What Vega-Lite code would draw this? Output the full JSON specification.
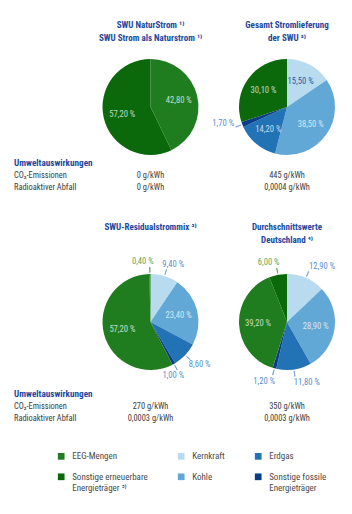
{
  "$schema": "https://vega.github.io/schema/vega-lite/v6.json",
  "background": "white",
  "padding": {"left": 14, "top": 0, "right": 0, "bottom": 0},
  "datasets": {
    "anteile": [
      {"chart": "SWU NaturStrom", "cat": "EEG-Mengen", "anteil": 0.428, "k": 5},
      {"chart": "SWU NaturStrom", "cat": "Sonstige erneuerbare Energieträger", "anteil": 0.572, "k": 6},
      {"chart": "Gesamt Stromlieferung der SWU", "cat": "Kernkraft", "anteil": 0.155, "k": 1},
      {"chart": "Gesamt Stromlieferung der SWU", "cat": "Kohle", "anteil": 0.385, "k": 2},
      {"chart": "Gesamt Stromlieferung der SWU", "cat": "Erdgas", "anteil": 0.142, "k": 3},
      {"chart": "Gesamt Stromlieferung der SWU", "cat": "Sonstige fossile Energieträger", "anteil": 0.017, "k": 4},
      {"chart": "Gesamt Stromlieferung der SWU", "cat": "Sonstige erneuerbare Energieträger", "anteil": 0.301, "k": 6},
      {"chart": "SWU-Residualstrommix", "cat": "Kernkraft", "anteil": 0.094, "k": 1},
      {"chart": "SWU-Residualstrommix", "cat": "Kohle", "anteil": 0.234, "k": 2},
      {"chart": "SWU-Residualstrommix", "cat": "Erdgas", "anteil": 0.086, "k": 3},
      {"chart": "SWU-Residualstrommix", "cat": "Sonstige fossile Energieträger", "anteil": 0.010, "k": 4},
      {"chart": "SWU-Residualstrommix", "cat": "EEG-Mengen", "anteil": 0.572, "k": 5},
      {"chart": "SWU-Residualstrommix", "cat": "Sonstige erneuerbare Energieträger", "anteil": 0.004, "k": 6},
      {"chart": "Durchschnittswerte Deutschland", "cat": "Kernkraft", "anteil": 0.129, "k": 1},
      {"chart": "Durchschnittswerte Deutschland", "cat": "Kohle", "anteil": 0.289, "k": 2},
      {"chart": "Durchschnittswerte Deutschland", "cat": "Erdgas", "anteil": 0.118, "k": 3},
      {"chart": "Durchschnittswerte Deutschland", "cat": "Sonstige fossile Energieträger", "anteil": 0.012, "k": 4},
      {"chart": "Durchschnittswerte Deutschland", "cat": "EEG-Mengen", "anteil": 0.392, "k": 5},
      {"chart": "Durchschnittswerte Deutschland", "cat": "Sonstige erneuerbare Energieträger", "anteil": 0.060, "k": 6}
    ],
    "titel": [
      {"reihe": "oben", "chart": "SWU NaturStrom", "titel": ["SWU NaturStrom ¹⁾", "SWU Strom als Naturstrom ¹⁾"]},
      {"reihe": "oben", "chart": "Gesamt Stromlieferung der SWU", "titel": ["Gesamt Stromlieferung", "der SWU ²⁾"]},
      {"reihe": "unten", "chart": "SWU-Residualstrommix", "titel": ["SWU-Residualstrommix ³⁾"]},
      {"reihe": "unten", "chart": "Durchschnittswerte Deutschland", "titel": ["Durchschnittswerte", "Deutschland ⁴⁾"]}
    ],
    "tabelle": [
      {"block": "oben", "zeile": "CO₂-Emissionen", "spalte": "SWU NaturStrom", "wert": "0 g/kWh"},
      {"block": "oben", "zeile": "CO₂-Emissionen", "spalte": "Gesamt Stromlieferung der SWU", "wert": "445 g/kWh"},
      {"block": "oben", "zeile": "Radioaktiver Abfall", "spalte": "SWU NaturStrom", "wert": "0 g/kWh"},
      {"block": "oben", "zeile": "Radioaktiver Abfall", "spalte": "Gesamt Stromlieferung der SWU", "wert": "0,0004 g/kWh"},
      {"block": "unten", "zeile": "CO₂-Emissionen", "spalte": "SWU-Residualstrommix", "wert": "270 g/kWh"},
      {"block": "unten", "zeile": "CO₂-Emissionen", "spalte": "Durchschnittswerte Deutschland", "wert": "350 g/kWh"},
      {"block": "unten", "zeile": "Radioaktiver Abfall", "spalte": "SWU-Residualstrommix", "wert": "0,0003 g/kWh"},
      {"block": "unten", "zeile": "Radioaktiver Abfall", "spalte": "Durchschnittswerte Deutschland", "wert": "0,0003 g/kWh"}
    ]
  },
  "bounds": "flush",
  "spacing": 0,
  "vconcat": [
    {
      "width": 273, "height": 59,
      "data": {"name": "titel"},
      "transform": [{"filter": "datum.reihe == 'oben'"}],
      "mark": {"type": "text", "fontSize": 9, "fontWeight": "bold", "color": "#22489c", "lineHeight": 12.5, "baseline": "middle", "dy": -4.5},
      "encoding": {
        "x": {"field": "chart", "type": "nominal", "scale": {"type": "point", "padding": 0, "domain": ["Bezeichnung", "SWU NaturStrom", "Gesamt Stromlieferung der SWU"]}, "axis": null},
        "text": {"field": "titel", "type": "nominal"}
      }
    },
    {
      "width": 273, "height": 96,
      "data": {"name": "anteile"},
      "encoding": {
        "theta": {"field": "anteil", "type": "quantitative", "stack": true, "scale": {"domain": [0, 1]}},
        "order": {"field": "k", "type": "quantitative"},
        "detail": {"field": "cat", "type": "nominal"}
      },
      "layer": [
        {
          "transform": [{"filter": "datum.chart == 'SWU NaturStrom'"}],
          "encoding": {"x": {"datum": "SWU NaturStrom", "type": "nominal", "scale": {"type": "point", "padding": 0, "domain": ["Bezeichnung", "SWU NaturStrom", "Gesamt Stromlieferung der SWU"]}, "axis": null}},
          "layer": [
            {"mark": {"type": "arc"}, "encoding": {"color": {"field": "cat", "type": "nominal", "scale": {"domain": ["EEG-Mengen", "Sonstige erneuerbare Energieträger", "Kernkraft", "Kohle", "Erdgas", "Sonstige fossile Energieträger"], "range": ["#1f7d1f", "#0b690b", "#b9dbef", "#62a8d6", "#2272b6", "#0a3c8c"]}, "legend": {"title": null, "labelExpr": "datum.label == 'Sonstige erneuerbare Energieträger' ? ['Sonstige erneuerbare', 'Energieträger ⁵⁾'] : datum.label == 'Sonstige fossile Energieträger' ? ['Sonstige fossile', 'Energieträger'] : datum.label"}}}},
            {"mark": {"type": "arc", "radius": 55, "radius2": 49.5, "padAngle": 3, "fillOpacity": 0, "strokeWidth": 0.9}, "encoding": {"stroke": {"condition": {"test": "datum.cat == 'EEG-Mengen' || datum.cat == 'Sonstige erneuerbare Energieträger'", "value": "#62aa62"}, "value": "#7aa5d8"}, "strokeOpacity": {"condition": {"test": "datum.anteil < 0.14", "value": 1}, "value": 0}}},
            {"mark": {"type": "text", "radius": 29, "fontSize": 8.6}, "encoding": {"text": {"condition": {"test": "datum.anteil >= 0.14", "field": "anteil", "type": "quantitative", "format": ".2%"}, "value": ""}, "color": {"condition": {"test": "datum.cat == 'Kernkraft'", "value": "#1f5ca8"}, "value": "#ffffff"}, "opacity": {"condition": {"test": "datum.cat == 'Kernkraft'", "value": 1}, "value": 0.72}}}
          ]
        },
        {
          "transform": [{"filter": "datum.chart == 'Gesamt Stromlieferung der SWU'"}],
          "encoding": {"x": {"datum": "Gesamt Stromlieferung der SWU", "type": "nominal", "scale": {"type": "point", "padding": 0, "domain": ["Bezeichnung", "SWU NaturStrom", "Gesamt Stromlieferung der SWU"]}, "axis": null}},
          "layer": [
            {"mark": {"type": "arc"}, "encoding": {"color": {"field": "cat", "type": "nominal", "scale": {"domain": ["EEG-Mengen", "Sonstige erneuerbare Energieträger", "Kernkraft", "Kohle", "Erdgas", "Sonstige fossile Energieträger"], "range": ["#1f7d1f", "#0b690b", "#b9dbef", "#62a8d6", "#2272b6", "#0a3c8c"]}, "legend": {"title": null, "labelExpr": "datum.label == 'Sonstige erneuerbare Energieträger' ? ['Sonstige erneuerbare', 'Energieträger ⁵⁾'] : datum.label == 'Sonstige fossile Energieträger' ? ['Sonstige fossile', 'Energieträger'] : datum.label"}}}},
            {"mark": {"type": "arc", "radius": 55, "radius2": 49.5, "padAngle": 3, "fillOpacity": 0, "strokeWidth": 0.9}, "encoding": {"stroke": {"condition": {"test": "datum.cat == 'EEG-Mengen' || datum.cat == 'Sonstige erneuerbare Energieträger'", "value": "#62aa62"}, "value": "#7aa5d8"}, "strokeOpacity": {"condition": {"test": "datum.anteil < 0.14", "value": 1}, "value": 0}}},
            {"mark": {"type": "text", "radius": 29, "fontSize": 8.6}, "encoding": {"text": {"condition": {"test": "datum.anteil >= 0.14", "field": "anteil", "type": "quantitative", "format": ".2%"}, "value": ""}, "color": {"condition": {"test": "datum.cat == 'Kernkraft'", "value": "#1f5ca8"}, "value": "#ffffff"}, "opacity": {"condition": {"test": "datum.cat == 'Kernkraft'", "value": 1}, "value": 0.72}}},
            {"mark": {"type": "text", "radius": 61, "fontSize": 8.6, "align": "right", "dx": 4, "dy": -6}, "encoding": {"text": {"condition": {"test": "datum.anteil < 0.14 && (datum.cat == 'Sonstige fossile Energieträger' || datum.cat == 'Sonstige erneuerbare Energieträger')", "field": "anteil", "type": "quantitative", "format": ".2%"}, "value": ""}, "color": {"value": "#5b8fd0"}}}
          ]
        }
      ]
    },
    {
      "width": 273, "height": 50,
      "layer": [
        {"data": {"name": "tabelle"}, "transform": [{"filter": "datum.block == 'oben'"}],
         "mark": {"type": "text", "fontSize": 8.4, "color": "#3c3c3c"},
         "encoding": {"x": {"field": "spalte", "type": "nominal", "scale": {"type": "point", "padding": 0, "domain": ["Bezeichnung", "SWU NaturStrom", "Gesamt Stromlieferung der SWU"]}, "axis": null}, "y": {"field": "zeile", "type": "nominal", "scale": {"type": "point", "padding": 0, "domain": ["Umweltauswirkungen", "CO₂-Emissionen", "Radioaktiver Abfall"], "range": [8, 32]}, "axis": null}, "text": {"field": "wert"}}},
        {"data": {"name": "tabelle"}, "transform": [{"filter": "datum.block == 'oben' && datum.spalte == 'SWU NaturStrom'"}],
         "mark": {"type": "text", "fontSize": 8.4, "color": "#3c3c3c", "align": "left"},
         "encoding": {"x": {"datum": "Bezeichnung", "type": "nominal", "scale": {"type": "point", "padding": 0, "domain": ["Bezeichnung", "SWU NaturStrom", "Gesamt Stromlieferung der SWU"]}, "axis": null}, "y": {"field": "zeile", "type": "nominal", "scale": {"type": "point", "padding": 0, "domain": ["Umweltauswirkungen", "CO₂-Emissionen", "Radioaktiver Abfall"], "range": [8, 32]}, "axis": null}, "text": {"field": "zeile"}}},
        {"data": {"values": [{"zeile": "Umweltauswirkungen"}]},
         "mark": {"type": "text", "fontSize": 9.2, "fontWeight": "bold", "color": "#22489c", "align": "left"},
         "encoding": {"x": {"datum": "Bezeichnung", "type": "nominal", "scale": {"type": "point", "padding": 0, "domain": ["Bezeichnung", "SWU NaturStrom", "Gesamt Stromlieferung der SWU"]}, "axis": null}, "y": {"field": "zeile", "type": "nominal", "scale": {"type": "point", "padding": 0, "domain": ["Umweltauswirkungen", "CO₂-Emissionen", "Radioaktiver Abfall"], "range": [8, 32]}, "axis": null}, "text": {"field": "zeile"}}}
      ]
    },
    {
      "width": 273, "height": 69,
      "data": {"name": "titel"},
      "transform": [{"filter": "datum.reihe == 'unten'"}],
      "mark": {"type": "text", "fontSize": 9, "fontWeight": "bold", "color": "#22489c", "lineHeight": 12.5, "baseline": "middle", "dy": -12.5},
      "encoding": {
        "x": {"field": "chart", "type": "nominal", "scale": {"type": "point", "padding": 0, "domain": ["Bezeichnung", "SWU-Residualstrommix", "Durchschnittswerte Deutschland"]}, "axis": null},
        "text": {"field": "titel", "type": "nominal"}
      }
    },
    {
      "width": 273, "height": 96,
      "data": {"name": "anteile"},
      "encoding": {
        "theta": {"field": "anteil", "type": "quantitative", "stack": true, "scale": {"domain": [0, 1]}},
        "order": {"field": "k", "type": "quantitative"},
        "detail": {"field": "cat", "type": "nominal"}
      },
      "layer": [
        {
          "transform": [{"filter": "datum.chart == 'SWU-Residualstrommix'"}],
          "encoding": {"x": {"datum": "SWU-Residualstrommix", "type": "nominal", "scale": {"type": "point", "padding": 0, "domain": ["Bezeichnung", "SWU-Residualstrommix", "Durchschnittswerte Deutschland"]}, "axis": null}},
          "layer": [
            {"mark": {"type": "arc"}, "encoding": {"color": {"field": "cat", "type": "nominal", "scale": {"domain": ["EEG-Mengen", "Sonstige erneuerbare Energieträger", "Kernkraft", "Kohle", "Erdgas", "Sonstige fossile Energieträger"], "range": ["#1f7d1f", "#0b690b", "#b9dbef", "#62a8d6", "#2272b6", "#0a3c8c"]}, "legend": {"title": null, "labelExpr": "datum.label == 'Sonstige erneuerbare Energieträger' ? ['Sonstige erneuerbare', 'Energieträger ⁵⁾'] : datum.label == 'Sonstige fossile Energieträger' ? ['Sonstige fossile', 'Energieträger'] : datum.label"}}}},
            {"mark": {"type": "arc", "radius": 55, "radius2": 49.5, "padAngle": 3, "fillOpacity": 0, "strokeWidth": 0.9}, "encoding": {"stroke": {"condition": {"test": "datum.cat == 'EEG-Mengen' || datum.cat == 'Sonstige erneuerbare Energieträger'", "value": "#62aa62"}, "value": "#7aa5d8"}, "strokeOpacity": {"condition": {"test": "datum.anteil < 0.14", "value": 1}, "value": 0}}},
            {"mark": {"type": "text", "radius": 29, "fontSize": 8.6}, "encoding": {"text": {"condition": {"test": "datum.anteil >= 0.14", "field": "anteil", "type": "quantitative", "format": ".2%"}, "value": ""}, "color": {"condition": {"test": "datum.cat == 'Kernkraft'", "value": "#1f5ca8"}, "value": "#ffffff"}, "opacity": {"condition": {"test": "datum.cat == 'Kernkraft'", "value": 1}, "value": 0.72}}},
            {"mark": {"type": "text", "radius": 61, "fontSize": 8.6, "align": "right", "dx": 4}, "encoding": {"text": {"condition": {"test": "datum.anteil < 0.14 && (datum.cat == 'Sonstige fossile Energieträger' || datum.cat == 'Sonstige erneuerbare Energieträger')", "field": "anteil", "type": "quantitative", "format": ".2%"}, "value": ""}, "color": {"condition": {"test": "datum.cat == 'EEG-Mengen' || datum.cat == 'Sonstige erneuerbare Energieträger'", "value": "#5ea65e"}, "value": "#5b8fd0"}}},
            {"mark": {"type": "text", "radius": 61, "fontSize": 8.6, "align": "left", "dx": -6}, "encoding": {"text": {"condition": {"test": "datum.anteil < 0.14 && (datum.cat == 'Kernkraft' || datum.cat == 'Kohle' || datum.cat == 'Erdgas')", "field": "anteil", "type": "quantitative", "format": ".2%"}, "value": ""}, "color": {"value": "#5b8fd0"}}}
          ]
        },
        {
          "transform": [{"filter": "datum.chart == 'Durchschnittswerte Deutschland'"}],
          "encoding": {"x": {"datum": "Durchschnittswerte Deutschland", "type": "nominal", "scale": {"type": "point", "padding": 0, "domain": ["Bezeichnung", "SWU-Residualstrommix", "Durchschnittswerte Deutschland"]}, "axis": null}},
          "layer": [
            {"mark": {"type": "arc"}, "encoding": {"color": {"field": "cat", "type": "nominal", "scale": {"domain": ["EEG-Mengen", "Sonstige erneuerbare Energieträger", "Kernkraft", "Kohle", "Erdgas", "Sonstige fossile Energieträger"], "range": ["#1f7d1f", "#0b690b", "#b9dbef", "#62a8d6", "#2272b6", "#0a3c8c"]}, "legend": {"title": null, "labelExpr": "datum.label == 'Sonstige erneuerbare Energieträger' ? ['Sonstige erneuerbare', 'Energieträger ⁵⁾'] : datum.label == 'Sonstige fossile Energieträger' ? ['Sonstige fossile', 'Energieträger'] : datum.label"}}}},
            {"mark": {"type": "arc", "radius": 55, "radius2": 49.5, "padAngle": 3, "fillOpacity": 0, "strokeWidth": 0.9}, "encoding": {"stroke": {"condition": {"test": "datum.cat == 'EEG-Mengen' || datum.cat == 'Sonstige erneuerbare Energieträger'", "value": "#62aa62"}, "value": "#7aa5d8"}, "strokeOpacity": {"condition": {"test": "datum.anteil < 0.14", "value": 1}, "value": 0}}},
            {"mark": {"type": "text", "radius": 29, "fontSize": 8.6}, "encoding": {"text": {"condition": {"test": "datum.anteil >= 0.14", "field": "anteil", "type": "quantitative", "format": ".2%"}, "value": ""}, "color": {"condition": {"test": "datum.cat == 'Kernkraft'", "value": "#1f5ca8"}, "value": "#ffffff"}, "opacity": {"condition": {"test": "datum.cat == 'Kernkraft'", "value": 1}, "value": 0.72}}},
            {"mark": {"type": "text", "radius": 61, "fontSize": 8.6, "align": "right", "dx": 4}, "encoding": {"text": {"condition": {"test": "datum.anteil < 0.14 && (datum.cat == 'Sonstige fossile Energieträger' || datum.cat == 'Sonstige erneuerbare Energieträger')", "field": "anteil", "type": "quantitative", "format": ".2%"}, "value": ""}, "color": {"condition": {"test": "datum.cat == 'EEG-Mengen' || datum.cat == 'Sonstige erneuerbare Energieträger'", "value": "#5ea65e"}, "value": "#5b8fd0"}}},
            {"mark": {"type": "text", "radius": 61, "fontSize": 8.6, "align": "left", "dx": -2}, "encoding": {"text": {"condition": {"test": "datum.anteil < 0.14 && (datum.cat == 'Kernkraft' || datum.cat == 'Kohle' || datum.cat == 'Erdgas')", "field": "anteil", "type": "quantitative", "format": ".2%"}, "value": ""}, "color": {"value": "#5b8fd0"}}}
          ]
        }
      ]
    },
    {
      "width": 273, "height": 60,
      "layer": [
        {"data": {"name": "tabelle"}, "transform": [{"filter": "datum.block == 'unten'"}],
         "mark": {"type": "text", "fontSize": 8.4, "color": "#3c3c3c"},
         "encoding": {"x": {"field": "spalte", "type": "nominal", "scale": {"type": "point", "padding": 0, "domain": ["Bezeichnung", "SWU-Residualstrommix", "Durchschnittswerte Deutschland"]}, "axis": null}, "y": {"field": "zeile", "type": "nominal", "scale": {"type": "point", "padding": 0, "domain": ["Umweltauswirkungen", "CO₂-Emissionen", "Radioaktiver Abfall"], "range": [24, 48]}, "axis": null}, "text": {"field": "wert"}}},
        {"data": {"name": "tabelle"}, "transform": [{"filter": "datum.block == 'unten' && datum.spalte == 'SWU-Residualstrommix'"}],
         "mark": {"type": "text", "fontSize": 8.4, "color": "#3c3c3c", "align": "left"},
         "encoding": {"x": {"datum": "Bezeichnung", "type": "nominal", "scale": {"type": "point", "padding": 0, "domain": ["Bezeichnung", "SWU-Residualstrommix", "Durchschnittswerte Deutschland"]}, "axis": null}, "y": {"field": "zeile", "type": "nominal", "scale": {"type": "point", "padding": 0, "domain": ["Umweltauswirkungen", "CO₂-Emissionen", "Radioaktiver Abfall"], "range": [24, 48]}, "axis": null}, "text": {"field": "zeile"}}},
        {"data": {"values": [{"zeile": "Umweltauswirkungen"}]},
         "mark": {"type": "text", "fontSize": 9.2, "fontWeight": "bold", "color": "#22489c", "align": "left"},
         "encoding": {"x": {"datum": "Bezeichnung", "type": "nominal", "scale": {"type": "point", "padding": 0, "domain": ["Bezeichnung", "SWU-Residualstrommix", "Durchschnittswerte Deutschland"]}, "axis": null}, "y": {"field": "zeile", "type": "nominal", "scale": {"type": "point", "padding": 0, "domain": ["Umweltauswirkungen", "CO₂-Emissionen", "Radioaktiver Abfall"], "range": [24, 48]}, "axis": null}, "text": {"field": "zeile"}}}
      ]
    }
  ],
  "resolve": {"scale": {"color": "shared"}},
  "config": {
    "font": "Roboto Condensed, Liberation Sans Narrow, Roboto, sans-serif",
    "view": {"stroke": null},
    "locale": {"number": {"decimal": ",", "thousands": ".", "grouping": [3], "currency": ["", " €"], "percent": " %"}},
    "legend": {"orient": "none", "legendX": 42.7, "legendY": 451.6, "columns": 3, "symbolType": "square", "symbolSize": 45, "symbolStrokeWidth": 0, "labelFontSize": 9, "labelColor": "#4a4a4a", "labelOffset": 6.5, "columnPadding": 28, "rowPadding": 10.7, "labelLimit": 200}
  }
}
